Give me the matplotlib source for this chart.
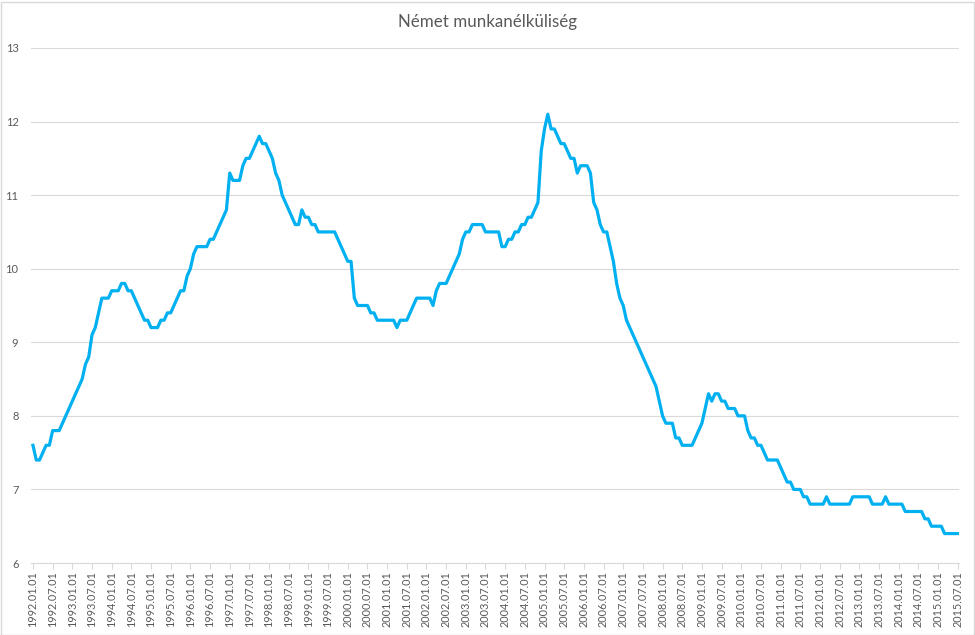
import numpy as np
import pandas as pd
import matplotlib
matplotlib.use("Agg")
import matplotlib.pyplot as plt
from matplotlib.patches import Rectangle

# monthly German unemployment rate (%)
rate_1992 = [7.6, 7.4, 7.4, 7.5, 7.6, 7.6, 7.8, 7.8, 7.8, 7.9, 8.0, 8.1]
rate_1993 = [8.2, 8.3, 8.4, 8.5, 8.7, 8.8, 9.1, 9.2, 9.4, 9.6, 9.6, 9.6]
rate_1994 = [9.7, 9.7, 9.7, 9.8, 9.8, 9.7, 9.7, 9.6, 9.5, 9.4, 9.3, 9.3]
rate_1995 = [9.2, 9.2, 9.2, 9.3, 9.3, 9.4, 9.4, 9.5, 9.6, 9.7, 9.7, 9.9]
rate_1996 = [10.0, 10.2, 10.3, 10.3, 10.3, 10.3, 10.4, 10.4, 10.5, 10.6, 10.7, 10.8]
rate_1997 = [11.3, 11.2, 11.2, 11.2, 11.4, 11.5, 11.5, 11.6, 11.7, 11.8, 11.7, 11.7]
rate_1998 = [11.6, 11.5, 11.3, 11.2, 11.0, 10.9, 10.8, 10.7, 10.6, 10.6, 10.8, 10.7]
rate_1999 = [10.7, 10.6, 10.6, 10.5, 10.5, 10.5, 10.5, 10.5, 10.5, 10.4, 10.3, 10.2]
rate_2000 = [10.1, 10.1, 9.6, 9.5, 9.5, 9.5, 9.5, 9.4, 9.4, 9.3, 9.3, 9.3]
rate_2001 = [9.3, 9.3, 9.3, 9.2, 9.3, 9.3, 9.3, 9.4, 9.5, 9.6, 9.6, 9.6]
rate_2002 = [9.6, 9.6, 9.5, 9.7, 9.8, 9.8, 9.8, 9.9, 10.0, 10.1, 10.2, 10.4]
rate_2003 = [10.5, 10.5, 10.6, 10.6, 10.6, 10.6, 10.5, 10.5, 10.5, 10.5, 10.5, 10.3]
rate_2004 = [10.3, 10.4, 10.4, 10.5, 10.5, 10.6, 10.6, 10.7, 10.7, 10.8, 10.9, 11.6]
rate_2005 = [11.9, 12.1, 11.9, 11.9, 11.8, 11.7, 11.7, 11.6, 11.5, 11.5, 11.3, 11.4]
rate_2006 = [11.4, 11.4, 11.3, 10.9, 10.8, 10.6, 10.5, 10.5, 10.3, 10.1, 9.8, 9.6]
rate_2007 = [9.5, 9.3, 9.2, 9.1, 9.0, 8.9, 8.8, 8.7, 8.6, 8.5, 8.4, 8.2]
rate_2008 = [8.0, 7.9, 7.9, 7.9, 7.7, 7.7, 7.6, 7.6, 7.6, 7.6, 7.7, 7.8]
rate_2009 = [7.9, 8.1, 8.3, 8.2, 8.3, 8.3, 8.2, 8.2, 8.1, 8.1, 8.1, 8.0]
rate_2010 = [8.0, 8.0, 7.8, 7.7, 7.7, 7.6, 7.6, 7.5, 7.4, 7.4, 7.4, 7.4]
rate_2011 = [7.3, 7.2, 7.1, 7.1, 7.0, 7.0, 7.0, 6.9, 6.9, 6.8, 6.8, 6.8]
rate_2012 = [6.8, 6.8, 6.9, 6.8, 6.8, 6.8, 6.8, 6.8, 6.8, 6.8, 6.9, 6.9]
rate_2013 = [6.9, 6.9, 6.9, 6.9, 6.8, 6.8, 6.8, 6.8, 6.9, 6.8, 6.8, 6.8]
rate_2014 = [6.8, 6.8, 6.7, 6.7, 6.7, 6.7, 6.7, 6.7, 6.6, 6.6, 6.5, 6.5]
rate_2015 = [6.5, 6.5, 6.4, 6.4, 6.4, 6.4, 6.4]

rates = (rate_1992 + rate_1993 + rate_1994 + rate_1995 + rate_1996 + rate_1997
         + rate_1998 + rate_1999 + rate_2000 + rate_2001 + rate_2002 + rate_2003
         + rate_2004 + rate_2005 + rate_2006 + rate_2007 + rate_2008 + rate_2009
         + rate_2010 + rate_2011 + rate_2012 + rate_2013 + rate_2014 + rate_2015)

dates = pd.date_range("1992-01-01", periods=len(rates), freq="MS")
labels = [d.strftime("%Y.%m.%d") for d in dates]

plt.rcParams["font.family"] = ["Lato", "DejaVu Sans"]
grey = "#595959"

fig = plt.figure(figsize=(9.75, 6.35), dpi=100)
ax = fig.add_axes([31 / 975, 72 / 635, 928 / 975, 515 / 635])

x = np.arange(len(rates))
ax.plot(x, rates, color="#00B0F0", linewidth=2.3, solid_joinstyle="round")

ax.set_xlim(-0.6, 282.4)
ax.set_ylim(6, 13)
ax.set_yticks(range(6, 14))
ax.set_xticks(x[::6])
ax.set_xticklabels(labels[::6], rotation=90, fontsize=7.8, color=grey)
ax.tick_params(axis="y", length=0, labelsize=8, labelcolor=grey, pad=9)
ax.tick_params(axis="x", length=4, color="#D9D9D9", pad=2)

ax.grid(axis="y", color="#D9D9D9", linewidth=0.8)
ax.set_axisbelow(True)
for side in ["top", "right", "left"]:
    ax.spines[side].set_visible(False)
ax.spines["bottom"].set_color("#D9D9D9")

fig.suptitle("Német munkanélküliség", y=1 - 22 / 635, va="center",
             fontsize=12.2, color=grey)

# light border around the chart area
fig.patches.append(Rectangle((0.5 / 975, 0.5 / 635), 973 / 975, 633 / 635,
                             transform=fig.transFigure, fill=False,
                             edgecolor="#D9D9D9", linewidth=1))

fig.savefig("out.png", dpi=100)
